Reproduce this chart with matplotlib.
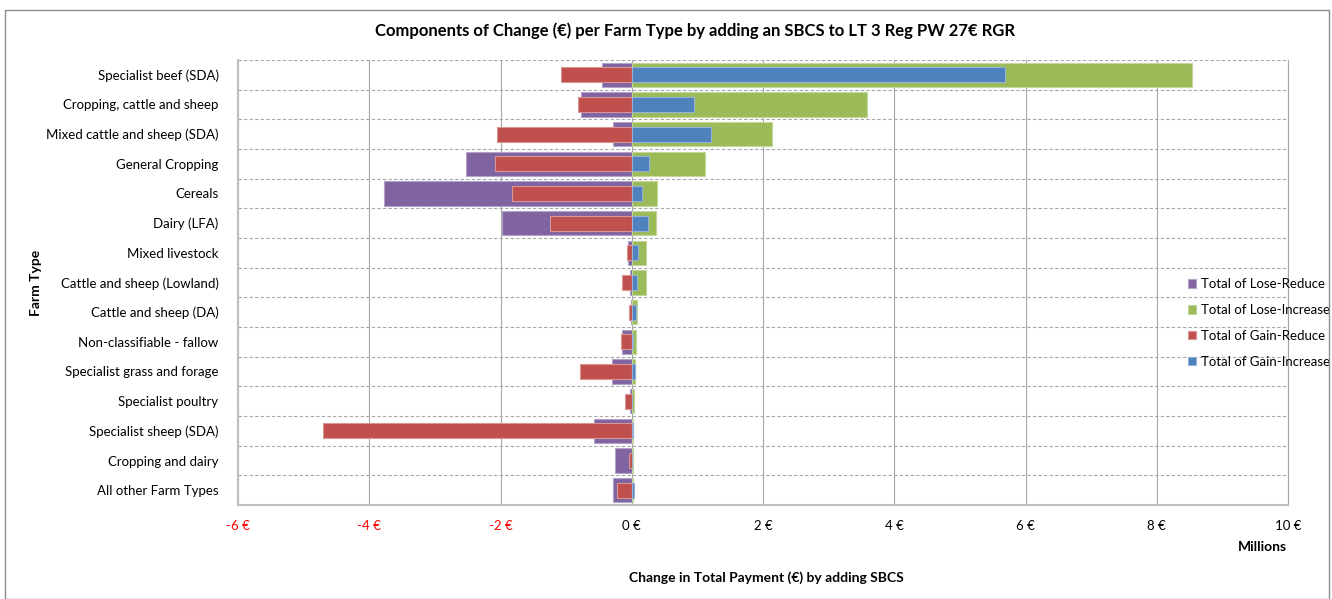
import numpy as np
import matplotlib.pyplot as plt
from matplotlib.patches import Rectangle
from matplotlib.ticker import FuncFormatter

plt.rcParams['font.family'] = ['Lato', 'DejaVu Sans']

# ---------------------------------------------------------------------------
# Data (millions of euro)
# ---------------------------------------------------------------------------
farm_types = ['Specialist beef (SDA)', 'Cropping, cattle and sheep',
              'Mixed cattle and sheep (SDA)', 'General Cropping', 'Cereals',
              'Dairy (LFA)', 'Mixed livestock', 'Cattle and sheep (Lowland)',
              'Cattle and sheep (DA)', 'Non-classifiable - fallow',
              'Specialist grass and forage', 'Specialist poultry',
              'Specialist sheep (SDA)', 'Cropping and dairy',
              'All other Farm Types']

lose_reduce   = [-0.45, -0.78, -0.28, -2.53, -3.77, -1.98, -0.05, -0.03,
                 -0.015, -0.15, -0.30, -0.025, -0.57, -0.26, -0.28]
lose_increase = [8.54, 3.58, 2.13, 1.12, 0.38, 0.37, 0.22, 0.21,
                 0.08, 0.07, 0.045, 0.035, 0.02, 0.015, 0.025]
gain_reduce   = [-1.08, -0.82, -2.05, -2.08, -1.82, -1.24, -0.08, -0.15,
                 -0.035, -0.17, -0.79, -0.10, -4.70, -0.045, -0.22]
gain_increase = [5.68, 0.95, 1.20, 0.27, 0.16, 0.25, 0.09, 0.08,
                 0.07, 0.025, 0.045, 0.01, 0.02, 0.01, 0.03]

x_ticks = [-6, -4, -2, 0, 2, 4, 6, 8, 10]

PURPLE = '#8064A2'
GREEN  = '#9BBB59'
RED    = '#C0504D'
BLUE   = '#4F81BD'

# ---------------------------------------------------------------------------
# Figure
# ---------------------------------------------------------------------------
fig = plt.figure(figsize=(13.32, 5.99), dpi=100)
W, H = 1332, 599
ax = fig.add_axes([238 / W, 1 - 505 / H, (1288 - 238) / W, (505 - 60) / H])

y = np.arange(len(farm_types))[::-1]

ax.barh(y, lose_reduce, height=0.82, color=PURPLE, edgecolor='#b3a2c7',
        linewidth=0.8, label='Total of Lose-Reduce', zorder=2)
ax.barh(y, lose_increase, height=0.82, color=GREEN, edgecolor='#c3d69b',
        linewidth=0.8, label='Total of Lose-Increase', zorder=2)
ax.barh(y, gain_reduce, height=0.5, color=RED, edgecolor='#d99694',
        linewidth=0.8, label='Total of Gain-Reduce', zorder=3)
ax.barh(y, gain_increase, height=0.5, color=BLUE, edgecolor='#95b3d7',
        linewidth=0.8, label='Total of Gain-Increase', zorder=3)

ax.set_xlim(-6, 10)
ax.set_ylim(-0.5, len(farm_types) - 0.5)
ax.set_xticks(x_ticks)
ax.xaxis.set_major_formatter(FuncFormatter(lambda v, p: f'{v:.0f} €'))
for lab, v in zip(ax.get_xticklabels(), x_ticks):
    lab.set_color('#FF0000' if v < 0 else 'black')
ax.set_yticks(y)
ax.set_yticklabels(farm_types)
ax.tick_params(axis='both', length=0, labelsize=9.5)
ax.tick_params(axis='y', pad=14)
ax.tick_params(axis='x', pad=11)

# gridlines
ax.set_axisbelow(True)
ax.xaxis.grid(True, color='#a6a6a6', linewidth=0.8)
for b in np.arange(len(farm_types)) + 0.5:
    ax.axhline(b, color='#a6a6a6', linestyle=(0, (3, 2)), linewidth=0.8,
               zorder=1)

ax.spines['top'].set_visible(False)
ax.spines['right'].set_color('#a6a6a6')
ax.spines['left'].set_color('#bfbfbf')
ax.spines['bottom'].set_color('#bfbfbf')
ax.spines['left'].set_linewidth(1.5)
ax.spines['bottom'].set_linewidth(1.5)

ax.legend(loc='center left', bbox_to_anchor=(1183 / W, 1 - 323 / H),
          bbox_transform=fig.transFigure, frameon=False, fontsize=9.5,
          handlelength=0.6, handleheight=0.6, handletextpad=0.4,
          labelspacing=1.05, borderaxespad=0)

fig.text(695 / W, 1 - 31 / H,
         'Components of Change (€) per Farm Type by adding an SBCS to LT 3 Reg PW 27€ RGR',
         ha='center', va='center', fontsize=12, fontweight='bold')
fig.text(766 / W, 1 - 578 / H, 'Change in Total Payment (€) by adding SBCS',
         ha='center', va='center', fontsize=10, fontweight='bold')
fig.text(1262 / W, 1 - 547 / H, 'Millions', ha='center', va='center',
         fontsize=10, fontweight='bold')
fig.text(36 / W, 1 - 283 / H, 'Farm Type', ha='center', va='center',
         rotation=90, fontsize=10, fontweight='bold')

# outer chart border
fig.patches.append(Rectangle((5 / W, 0), 1324 / W, 1 - 10 / H,
                             transform=fig.transFigure, fill=False,
                             edgecolor='#8c8c8c', linewidth=1.0))

fig.savefig('out.png', dpi=100)
